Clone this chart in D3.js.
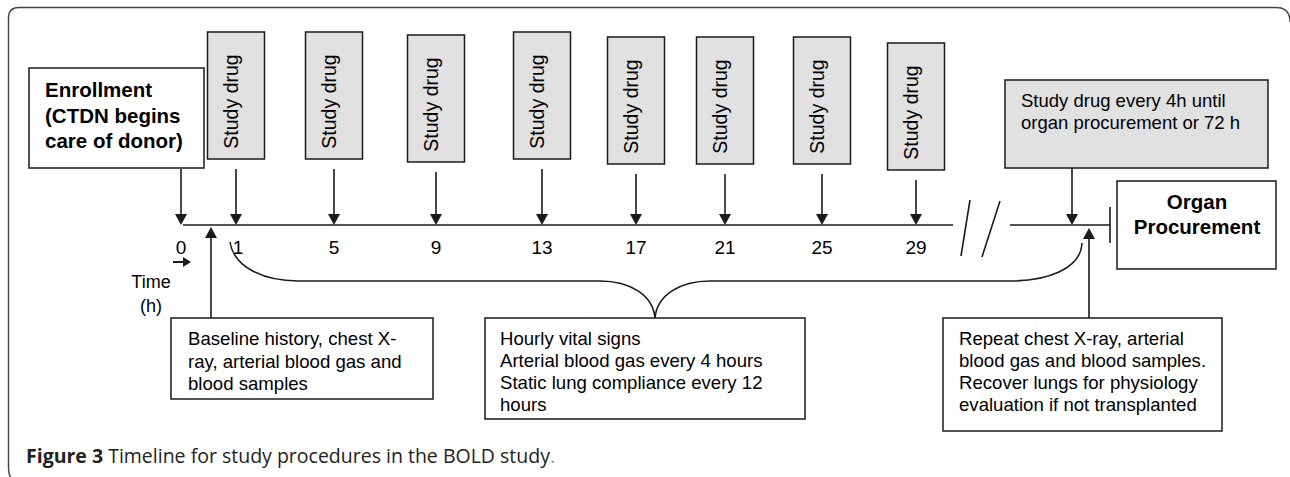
<!DOCTYPE html>
<html>
<head>
<meta charset="utf-8">
<script src="https://cdn.jsdelivr.net/npm/d3@7/dist/d3.min.js"></script>
<style>
  html, body { margin: 0; padding: 0; background: #fff; }
  svg { display: block; font-family: "Liberation Sans", Arial, sans-serif; }
</style>
</head>
<body>
<svg id="chart" width="1290" height="477"></svg>
<script>
// ---- data ----
const hours = [0, 1, 5, 9, 13, 17, 21, 25, 29];
const hourLabels = ["0", "1", "5", "9", "13", "17", "21", "25", "29"];
const drugHours = [1, 5, 9, 13, 17, 21, 25, 29];
const drugLabel = "Study drug";
const enrollLines = ["Enrollment", "(CTDN begins", "care of donor)"];
const procureLines = ["Organ", "Procurement"];
const continueLines = ["Study drug every 4h until", "organ procurement or 72 h"];
const baselineLines = ["Baseline history, chest X-", "ray, arterial blood gas and", "blood samples"];
const hourlyLines = ["Hourly vital signs", "Arterial blood gas every 4 hours", "Static lung compliance every 12", "hours"];
const repeatLines = ["Repeat chest X-ray, arterial", "blood gas and blood samples.", "Recover lungs for physiology", "evaluation if not transplanted"];
const timeLabel = ["Time", "(h)"];

// ---- layout (pixel stops of the hand-drawn axis) ----
const axisStops = [181, 236, 334, 436, 542, 636, 725, 822, 916];
const drugTops = [32, 32, 35, 32, 37, 37, 37, 43];
const axisY = 225;
const ink = "#1b1b1b";
const grayFill = "#e1e1e1";

const x = d3.scaleLinear().domain(hours).range(axisStops);

const svg = d3.select("#chart");

// outer frame (right and bottom edges run off the picture)
svg.append("path")
    .attr("d", "M1290,22 Q1290,7.5 1276,7.5 L19,7.5 Q8.5,7.5 8.5,18 L8.5,468 Q8.5,482 20,482")
    .attr("fill", "none")
    .attr("stroke", "#444")
    .attr("stroke-width", 1.4);

// helpers
function arrowDown(g, cx, y1, y2) {
    g.append("line")
        .attr("x1", cx).attr("x2", cx)
        .attr("y1", y1).attr("y2", y2 - 10)
        .attr("stroke", ink).attr("stroke-width", 1.6);
    g.append("path")
        .attr("d", `M${cx - 6},${y2 - 11} L${cx + 6},${y2 - 11} L${cx},${y2} Z`)
        .attr("fill", ink);
}

function arrowUp(g, cx, y1, y2) {
    // y1 bottom, y2 tip
    g.append("line")
        .attr("x1", cx).attr("x2", cx)
        .attr("y1", y1).attr("y2", y2 + 10)
        .attr("stroke", ink).attr("stroke-width", 1.6);
    g.append("path")
        .attr("d", `M${cx - 6},${y2 + 11} L${cx + 6},${y2 + 11} L${cx},${y2} Z`)
        .attr("fill", ink);
}

function textBox(g, bx, by, bw, bh, lines, opts) {
    g.append("rect")
        .attr("x", bx).attr("y", by)
        .attr("width", bw).attr("height", bh)
        .attr("fill", opts.fill || "#fff")
        .attr("stroke", ink).attr("stroke-width", 1.5);
    const t = g.append("text")
        .attr("font-size", opts.size + "px")
        .attr("font-weight", opts.bold ? "bold" : "normal")
        .attr("fill", "#000")
        .attr("text-anchor", opts.anchor || "start");
    lines.forEach((ln, i) => {
        t.append("tspan")
            .attr("x", opts.tx)
            .attr("y", opts.ty + i * opts.lh)
            .text(ln);
    });
}

const g = svg.append("g");

// ---- timeline ----
g.append("line")
    .attr("x1", x(0) + 2).attr("x2", 953)
    .attr("y1", axisY).attr("y2", axisY)
    .attr("stroke", ink).attr("stroke-width", 1.6);
g.append("line")
    .attr("x1", 1010).attr("x2", 1110)
    .attr("y1", axisY).attr("y2", axisY)
    .attr("stroke", ink).attr("stroke-width", 1.6);
// end bar
g.append("line")
    .attr("x1", 1110).attr("x2", 1110)
    .attr("y1", 207).attr("y2", 243)
    .attr("stroke", ink).attr("stroke-width", 1.6);
// break marks
[[970, 200, 961, 256], [1000, 201, 982, 257]].forEach(s => {
    g.append("line")
        .attr("x1", s[0]).attr("y1", s[1])
        .attr("x2", s[2]).attr("y2", s[3])
        .attr("stroke", ink).attr("stroke-width", 1.6);
});

// tick labels
g.selectAll(".hour")
    .data(hours)
    .enter()
    .append("text")
    .attr("class", "hour")
    .attr("x", (d, i) => x(d) + (i === 1 ? 2 : 0))
    .attr("y", 254)
    .attr("text-anchor", "middle")
    .attr("font-size", "19px")
    .attr("fill", "#000")
    .text((d, i) => hourLabels[i]);

// ---- enrollment ----
textBox(g, 29, 68, 175, 100, enrollLines,
    { size: 20.5, bold: true, tx: 45, ty: 97, lh: 25.5 });
arrowDown(g, x(0), 169, axisY);

// ---- study drug boxes ----
const boxW = 57, boxH = 127;
drugHours.forEach((h, i) => {
    const cx = x(h);
    const top = drugTops[i];
    g.append("rect")
        .attr("x", cx - boxW / 2).attr("y", top)
        .attr("width", boxW).attr("height", boxH)
        .attr("fill", grayFill)
        .attr("stroke", ink).attr("stroke-width", 1.5);
    g.append("text")
        .attr("transform", `translate(${cx + 2},${top + boxH / 2 + 6}) rotate(-90)`)
        .attr("text-anchor", "middle")
        .attr("font-size", "19.5px")
        .attr("fill", "#000")
        .text(drugLabel);
    arrowDown(g, cx, top + boxH + 10, axisY);
});

// ---- continuing drug box ----
textBox(g, 1005, 80, 263, 88, continueLines,
    { size: 18.5, fill: grayFill, tx: 1021, ty: 107, lh: 22 });
arrowDown(g, 1072, 168, axisY);

// ---- organ procurement ----
textBox(g, 1117, 181, 159, 88, procureLines,
    { size: 20.5, bold: true, anchor: "middle", tx: 1197, ty: 209, lh: 24.5 });

// ---- time label ----
const tl = g.append("text")
    .attr("text-anchor", "middle")
    .attr("font-size", "18px")
    .attr("fill", "#000");
timeLabel.forEach((ln, i) => {
    tl.append("tspan").attr("x", 151).attr("y", 288 + i * 24).text(ln);
});
g.append("line")
    .attr("x1", 173).attr("x2", 184)
    .attr("y1", 262).attr("y2", 262)
    .attr("stroke", ink).attr("stroke-width", 2);
g.append("path")
    .attr("d", "M183,257 L191,262 L183,267 Z")
    .attr("fill", ink);

// ---- brace ----
const braceL = x(1) - 6, braceR = 1082, braceMid = 655, braceY = 281, braceTip = 318;
const bp = d3.path();
bp.moveTo(braceL, 242);
bp.bezierCurveTo(braceL + 4, 268, braceL + 35, braceY, braceL + 68, braceY);
bp.lineTo(braceMid - 55, braceY);
bp.bezierCurveTo(braceMid - 25, braceY, braceMid - 2, braceY + 14, braceMid, braceTip);
bp.bezierCurveTo(braceMid + 2, braceY + 14, braceMid + 25, braceY, braceMid + 55, braceY);
bp.lineTo(braceR - 72, braceY);
bp.bezierCurveTo(braceR - 35, braceY, braceR - 1, braceY - 12, braceR, 243);
g.append("path")
    .attr("d", bp.toString())
    .attr("fill", "none")
    .attr("stroke", ink)
    .attr("stroke-width", 1.6);

// ---- bottom boxes ----
textBox(g, 171, 318, 262, 81, baselineLines,
    { size: 18.6, tx: 188, ty: 345, lh: 22.5 });
arrowUp(g, 211, 318, 227);

textBox(g, 485, 318, 320, 101, hourlyLines,
    { size: 18.6, tx: 500, ty: 345, lh: 22 });

textBox(g, 943, 318, 279, 113, repeatLines,
    { size: 18.6, tx: 959, ty: 345, lh: 22 });
arrowUp(g, 1089, 318, 228);

// ---- caption ----
const cap = svg.append("text")
    .attr("x", 26).attr("y", 463)
    .attr("font-family", "'Open Sans', 'Noto Sans', sans-serif")
    .attr("font-size", "19.5px")
    .attr("fill", "#222");
cap.append("tspan").attr("font-weight", "bold").text("Figure 3");
cap.append("tspan").text(" Timeline for study procedures in the BOLD study");
cap.append("tspan").attr("fill", "#999").text(".");
</script>
</body>
</html>
